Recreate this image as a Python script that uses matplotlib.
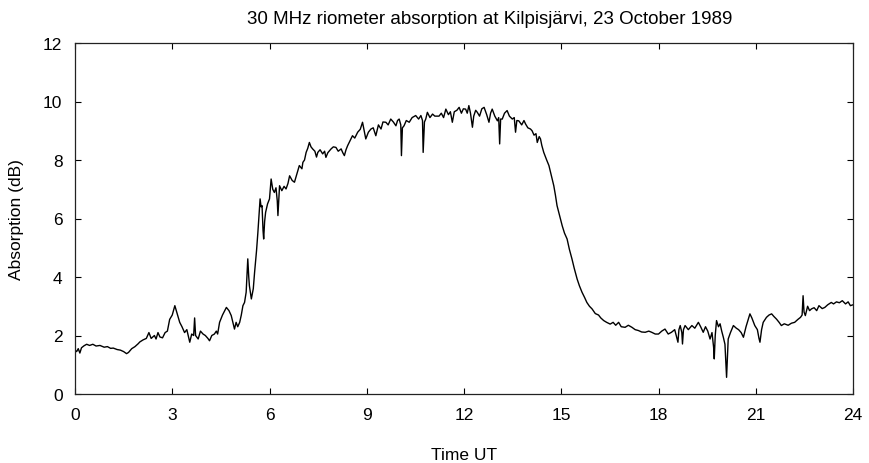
import matplotlib
matplotlib.use("Agg")
import matplotlib.pyplot as plt
import numpy as np

plt.rcParams['font.family'] = ['Liberation Sans', 'DejaVu Sans']

title = "30 MHz riometer absorption at Kilpisjärvi, 23 October 1989"
x_label = "Time UT"
y_label = "Absorption (dB)"
x_ticks = [0, 3, 6, 9, 12, 15, 18, 21, 24]
y_ticks = [0, 2, 4, 6, 8, 10, 12]

time_ut = [
    0.00, 0.05, 0.10, 0.15, 0.20, 0.28, 0.36, 0.45, 0.55, 0.65, 0.77, 0.90, 1.00, 1.10, 1.18,
    1.30, 1.40, 1.50, 1.59, 1.65, 1.75, 1.85, 1.95, 2.00, 2.10, 2.20, 2.28, 2.35, 2.45, 2.50,
    2.56, 2.62, 2.70, 2.78, 2.85, 2.92, 3.00, 3.08, 3.15, 3.23, 3.30, 3.38, 3.45, 3.54, 3.60,
    3.66, 3.69, 3.72, 3.80, 3.87, 3.95, 4.02, 4.10, 4.15, 4.22, 4.30, 4.36, 4.40, 4.46, 4.55,
    4.67, 4.75, 4.82, 4.88, 4.92, 4.97, 5.02, 5.08, 5.13, 5.18, 5.23, 5.28, 5.31, 5.33, 5.36,
    5.38, 5.44, 5.50, 5.54, 5.60, 5.64, 5.68, 5.71, 5.74, 5.77, 5.80, 5.82, 5.85, 5.88, 5.94,
    6.00, 6.05, 6.10, 6.15, 6.20, 6.24, 6.26, 6.31, 6.38, 6.45, 6.51, 6.57, 6.62, 6.70, 6.77,
    6.85, 6.92, 7.00, 7.03, 7.08, 7.13, 7.18, 7.23, 7.28, 7.33, 7.40, 7.45, 7.49, 7.56, 7.64,
    7.70, 7.74, 7.80, 7.90, 7.97, 8.05, 8.12, 8.21, 8.26, 8.31, 8.36, 8.41, 8.48, 8.56, 8.63,
    8.72, 8.80, 8.87, 8.92, 8.97, 9.05, 9.13, 9.20, 9.28, 9.36, 9.44, 9.50, 9.59, 9.66, 9.74,
    9.82, 9.90, 9.95, 10.00, 10.05, 10.07, 10.10, 10.15, 10.22, 10.31, 10.40, 10.51, 10.60, 10.67, 10.72,
    10.74, 10.78, 10.82, 10.87, 10.95, 11.03, 11.10, 11.23, 11.30, 11.37, 11.44, 11.52, 11.58, 11.64, 11.70,
    11.78, 11.85, 11.92, 11.98, 12.05, 12.10, 12.15, 12.20, 12.26, 12.30, 12.36, 12.41, 12.48, 12.55, 12.62,
    12.70, 12.77, 12.82, 12.87, 12.95, 13.03, 13.07, 13.10, 13.13, 13.18, 13.25, 13.33, 13.40, 13.49, 13.55,
    13.59, 13.63, 13.69, 13.78, 13.85, 13.90, 13.97, 14.05, 14.10, 14.16, 14.22, 14.26, 14.32, 14.36, 14.40,
    14.46, 14.55, 14.62, 14.70, 14.77, 14.82, 14.87, 14.95, 15.03, 15.10, 15.18, 15.25, 15.33, 15.40, 15.49,
    15.56, 15.64, 15.72, 15.79, 15.87, 15.95, 16.05, 16.15, 16.22, 16.31, 16.40, 16.51, 16.60, 16.68, 16.77,
    16.85, 16.97, 17.07, 17.18, 17.28, 17.38, 17.48, 17.59, 17.70, 17.79, 17.90, 18.00, 18.10, 18.20, 18.30,
    18.40, 18.50, 18.60, 18.63, 18.67, 18.72, 18.74, 18.77, 18.82, 18.92, 19.03, 19.12, 19.23, 19.30, 19.38,
    19.45, 19.52, 19.59, 19.65, 19.70, 19.72, 19.75, 19.79, 19.85, 19.90, 19.95, 20.00, 20.05, 20.10, 20.13,
    20.15, 20.22, 20.31, 20.40, 20.47, 20.55, 20.62, 20.70, 20.77, 20.82, 20.88, 20.97, 21.05, 21.10, 21.13,
    21.18, 21.23, 21.33, 21.41, 21.49, 21.56, 21.64, 21.72, 21.79, 21.88, 22.00, 22.10, 22.20, 22.30, 22.38,
    22.43, 22.46, 22.49, 22.53, 22.60, 22.66, 22.72, 22.80, 22.88, 22.95, 23.05, 23.13, 23.22, 23.33, 23.40,
    23.49, 23.58, 23.67, 23.77, 23.85, 23.92, 24.00,
]

absorption_db = [
    1.50, 1.45, 1.55, 1.40, 1.58, 1.65, 1.70, 1.66, 1.70, 1.64, 1.66, 1.60, 1.62, 1.56, 1.57,
    1.52, 1.50, 1.45, 1.38, 1.42, 1.55, 1.62, 1.72, 1.78, 1.85, 1.90, 2.10, 1.90, 2.00, 1.88,
    2.10, 1.95, 1.92, 2.10, 2.15, 2.55, 2.70, 3.02, 2.75, 2.45, 2.30, 2.10, 2.20, 1.77, 2.05,
    2.00, 2.60, 2.00, 1.88, 2.15, 2.05, 2.00, 1.90, 1.82, 2.00, 2.05, 2.15, 2.05, 2.45, 2.70,
    2.96, 2.85, 2.68, 2.40, 2.22, 2.45, 2.30, 2.45, 2.70, 3.02, 3.13, 3.48, 4.20, 4.62, 4.00,
    3.70, 3.25, 3.60, 4.16, 4.90, 5.50, 6.20, 6.67, 6.40, 6.44, 5.60, 5.30, 5.90, 6.21, 6.50,
    6.67, 7.35, 7.00, 6.89, 7.05, 6.60, 6.10, 7.12, 6.95, 7.10, 7.01, 7.20, 7.46, 7.30, 7.24,
    7.55, 7.81, 7.70, 7.92, 8.00, 8.26, 8.40, 8.60, 8.45, 8.38, 8.30, 8.10, 8.26, 8.35, 8.21,
    8.30, 8.09, 8.25, 8.38, 8.45, 8.43, 8.30, 8.38, 8.25, 8.15, 8.35, 8.49, 8.65, 8.83, 8.75,
    8.95, 9.05, 9.29, 9.00, 8.72, 8.95, 9.06, 9.10, 8.83, 9.20, 9.06, 9.30, 9.29, 9.20, 9.40,
    9.30, 9.17, 9.35, 9.40, 9.20, 8.15, 9.10, 9.17, 9.35, 9.29, 9.45, 9.52, 9.40, 9.52, 9.35,
    8.26, 9.30, 9.40, 9.63, 9.45, 9.57, 9.50, 9.50, 9.60, 9.45, 9.74, 9.55, 9.65, 9.29, 9.65,
    9.70, 9.80, 9.60, 9.75, 9.74, 9.60, 9.86, 9.60, 9.12, 9.50, 9.70, 9.63, 9.50, 9.75, 9.80,
    9.55, 9.29, 9.60, 9.74, 9.50, 9.34, 9.45, 8.55, 9.40, 9.40, 9.60, 9.69, 9.50, 9.40, 9.45,
    8.95, 9.35, 9.34, 9.20, 9.35, 9.23, 9.10, 9.06, 9.00, 8.85, 8.90, 8.60, 8.80, 8.72, 8.50,
    8.26, 8.00, 7.81, 7.45, 7.12, 6.80, 6.44, 6.10, 5.75, 5.50, 5.30, 4.95, 4.62, 4.30, 3.93,
    3.70, 3.48, 3.30, 3.13, 3.00, 2.91, 2.75, 2.70, 2.60, 2.51, 2.45, 2.39, 2.45, 2.35, 2.45,
    2.30, 2.28, 2.35, 2.28, 2.20, 2.17, 2.12, 2.11, 2.15, 2.11, 2.05, 2.05, 2.15, 2.22, 2.05,
    2.11, 2.20, 1.77, 2.20, 2.34, 2.10, 1.71, 2.20, 2.34, 2.20, 2.34, 2.25, 2.45, 2.30, 2.11,
    2.30, 2.15, 1.88, 2.10, 1.60, 1.20, 2.00, 2.51, 2.30, 2.40, 2.15, 1.94, 1.70, 0.57, 1.40,
    1.88, 2.10, 2.34, 2.25, 2.20, 2.10, 1.94, 2.30, 2.55, 2.74, 2.60, 2.34, 2.20, 1.90, 1.77,
    2.20, 2.45, 2.62, 2.70, 2.74, 2.65, 2.56, 2.45, 2.34, 2.40, 2.35, 2.42, 2.45, 2.55, 2.62,
    2.70, 3.36, 2.80, 2.68, 3.00, 2.85, 2.91, 2.95, 2.85, 3.02, 2.92, 2.96, 3.05, 3.13, 3.08,
    3.15, 3.12, 3.19, 3.08, 3.15, 3.02, 3.05,
]

fig = plt.figure(figsize=(8.69, 4.64), dpi=100)
ax = fig.add_axes([75 / 869, 1 - 395 / 464, (853 - 75) / 869, (395 - 44) / 464])
ax.plot(time_ut, absorption_db, color='black', linewidth=1.0)

ax.set_xlim(0, 24)
ax.set_ylim(0, 12)
ax.set_xticks(x_ticks)
ax.set_yticks(y_ticks)
ax.tick_params(direction='in', length=4, width=0.8, top=True, right=True,
               labelsize=12.5, pad=9)
for s in ax.spines.values():
    s.set_linewidth(0.9)
    s.set_color('#222222')

ax.set_xlabel(x_label, fontsize=12.5, labelpad=18)
ax.set_ylabel(y_label, fontsize=12.5, labelpad=14)
fig.text(490 / 869, 1 - 20 / 464, title, ha='center', va='center', fontsize=13.5)

fig.savefig('out.png', dpi=100)
